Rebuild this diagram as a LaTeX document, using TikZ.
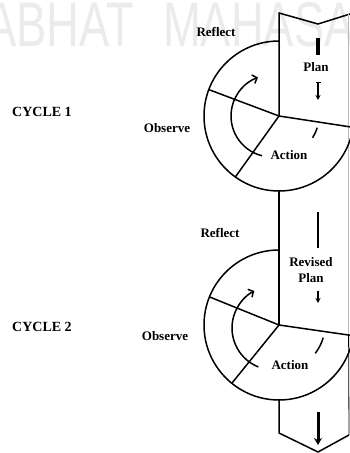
\documentclass[tikz,border=0pt]{standalone}
\usepackage{fontspec}
\setmainfont{Liberation Serif}
\newfontfamily\wmfont[FakeStretch=0.72]{Liberation Sans}
\usetikzlibrary{arrows.meta}
\begin{document}
\begin{tikzpicture}[x=1pt,y=1pt,
  edge/.style={line width=1.5pt, line join=miter, line cap=butt},
  thinedge/.style={line width=0.8pt, draw=gray!55},
  lbl/.style={font=\fontsize{13}{13}\selectfont\bfseries, inner sep=0pt},
  cyc/.style={font=\fontsize{14}{14}\selectfont\bfseries, inner sep=0pt},
  wm/.style={font=\fontsize{63}{63}\selectfont\wmfont, text=black!8, inner sep=0pt, anchor=base west},
  cyclearrow/.style={line width=1.5pt, -{Straight Barb[length=4pt,width=9pt]}},
  bar/.style={line width=3pt, line cap=butt},
  downarrow/.style={line width=1.2pt, -{Stealth[length=5pt,width=5pt]}}]
\useasboundingbox (0,0) rectangle (350,453);
\clip (0,0) rectangle (350,453);
% watermark
\node[wm] (wmA) at (-14,406) {ABHAT};
\node[wm] (wmB) at (163,406) {MAHASA};
% key points
\coordinate (C1) at (279,337);
\coordinate (C2) at (279,128);
\coordinate (TL) at (279,440);
\coordinate (TN) at (318,429);
\coordinate (TR) at (350,439);
\coordinate (BL) at (279,20);
\coordinate (BT) at (318,1);
\coordinate (BR) at (349,18);
% band outline
\draw[edge] (C1) -- (TL) -- (TN) -- (TR);
\draw[edge] (279,262) -- (C2);
\draw[edge] (279,53) -- (BL) -- (BT) -- (BR);
\draw[thinedge] (348.6,439) -- (348.6,118);
\draw[line width=0.8pt] (348.6,118) -- (BR);
% cycle 1
\draw[edge] (279,412) arc[start angle=90, end angle=351.3, radius=75];
\draw[edge] (C1) -- ++(-8.7:75);
\draw[edge] (C1) -- ++(159.4:75);
\draw[edge] (C1) -- ++(234.4:75);
\draw[cyclearrow] (272,337) ++(256:41) arc[start angle=256, end angle=110, radius=41];
\draw[line width=1.5pt] (C1) ++(-33:40) arc[start angle=-33, end angle=-17, radius=40];
% cycle 2
\draw[edge] (279,203) arc[start angle=90, end angle=351.5, radius=75];
\draw[edge] (C2) -- ++(-8.2:75);
\draw[edge] (C2) -- ++(158:75);
\draw[edge] (C2) -- ++(231:75);
\draw[cyclearrow] (274,125) ++(248:42) arc[start angle=248, end angle=118, radius=42];
\draw[line width=1.5pt] (C2) ++(-38:46) arc[start angle=-38, end angle=-16, radius=46];
% band arrows
\draw[bar, line width=3.5pt] (318,415) -- (318,398);
\draw[downarrow] (318,371) -- (318,353);
\draw[line width=0.8pt] (315.5,371) -- (320.5,371);
\draw[bar, line width=2.5pt] (318,241) -- (318,205);
\draw[downarrow, line width=1.6pt] (318,162) -- (318,150);
\draw[line width=3pt, -{Stealth[length=7pt,width=8pt]}] (318,41) -- (318,8);
% labels
\node[lbl] (r1) at (216,421) {Reflect};
\node[lbl] (p1) at (316,386) {Plan};
\node[cyc] (c1) at (42,341) {CYCLE 1};
\node[lbl] (o1) at (167,325) {Observe};
\node[lbl] (a1) at (289,298) {Action};
\node[lbl] (r2) at (220,220) {Reflect};
\node[lbl] (rv) at (311,191) {Revised};
\node[lbl] (p2) at (311,175) {Plan};
\node[cyc] (c2) at (42,126) {CYCLE 2};
\node[lbl] (o2) at (165,117) {Observe};
\node[lbl] (a2) at (290,88) {Action};
\end{tikzpicture}
\end{document}
